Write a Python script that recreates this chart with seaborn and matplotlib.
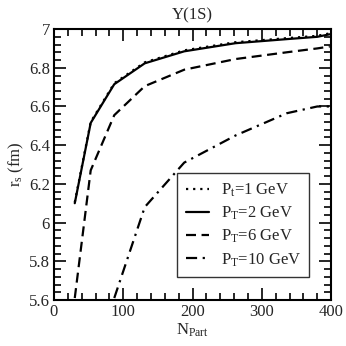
import numpy as np
import pandas as pd
import matplotlib
matplotlib.use('Agg')
import matplotlib.pyplot as plt
from matplotlib.ticker import MultipleLocator
import seaborn as sns

# values
n_part = [30, 53, 87, 131, 188, 262, 336, 380, 398]
rs_pt1 = [6.105, 6.52, 6.72, 6.828, 6.89, 6.932, 6.953, 6.965, 6.978]
rs_pt2 = [6.10, 6.515, 6.715, 6.823, 6.885, 6.927, 6.948, 6.960, 6.973]
rs_pt6 = [5.61, 6.27, 6.555, 6.705, 6.79, 6.845, 6.88, 6.90, 6.91]
rs_pt10 = [np.nan, np.nan, 5.61, 6.08, 6.31, 6.45, 6.565, 6.60, 6.60]
labels = ['P$_\\mathrm{t}$=1 GeV', 'P$_\\mathrm{T}$=2 GeV',
          'P$_\\mathrm{T}$=6 GeV', 'P$_\\mathrm{T}$=10 GeV']

sns.set_style('ticks')
plt.rcParams['font.family'] = ['Liberation Serif', 'DejaVu Serif']
plt.rcParams['mathtext.fontset'] = 'custom'
plt.rcParams['mathtext.rm'] = 'Liberation Serif'
plt.rcParams['mathtext.it'] = 'Liberation Serif:italic'
plt.rcParams['font.size'] = 12

fig = plt.figure(figsize=(3.46, 3.46), dpi=100)
ax = fig.add_axes([0.156, 0.133, 0.801, 0.783])

styles = [(0, (1, 2.2)), '-', (0, (4.5, 2.5)), (0, (5, 2.5, 1, 2.5))]
series = [rs_pt1, rs_pt2, rs_pt6, rs_pt10]
for vals, lab, ls in zip(series, labels, styles):
    df = pd.DataFrame({'N': n_part, 'rs': vals}).dropna()
    sns.lineplot(data=df, x='N', y='rs', ax=ax, color='black', lw=1.6,
                 linestyle=ls, label=lab, sort=False)

ax.set_xlim(0, 400)
ax.set_ylim(5.6, 7.0)
ax.xaxis.set_major_locator(MultipleLocator(100))
ax.xaxis.set_minor_locator(MultipleLocator(20))
ax.yaxis.set_major_locator(MultipleLocator(0.2))
ax.yaxis.set_minor_locator(MultipleLocator(0.04))
ax.set_yticks([5.6, 5.8, 6.0, 6.2, 6.4, 6.6, 6.8, 7.0])
ax.set_yticklabels(['5.6', '5.8', '6', '6.2', '6.4', '6.6', '6.8', '7'])
ax.tick_params(which='both', direction='in', top=True, right=True,
               labelsize=12, width=1.4, pad=3)
ax.tick_params(which='major', length=8.5)
ax.tick_params(which='minor', length=5)
for s in ax.spines.values():
    s.set_linewidth(1.5)
    s.set_color('black')

ax.set_xlabel('N$_\\mathrm{Part}$', fontsize=12, labelpad=1)
ax.set_ylabel('r$_\\mathrm{s}$ (fm)', fontsize=12, labelpad=2)
ax.set_title('Υ(1S)', fontsize=12, pad=7)

leg = ax.legend(loc='lower right', bbox_to_anchor=(0.921, 0.085),
                borderaxespad=0, frameon=True, fancybox=False,
                edgecolor='black', fontsize=12, handlelength=1.4,
                handletextpad=0.7, labelspacing=0.35, borderpad=0.5)
leg.get_frame().set_linewidth(1.0)

fig.savefig('out.png', dpi=100)
